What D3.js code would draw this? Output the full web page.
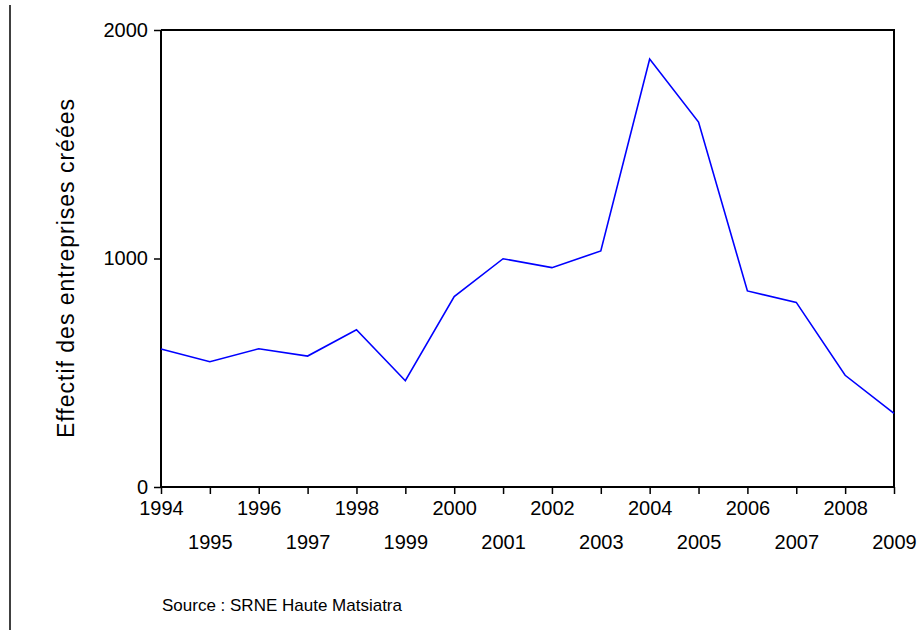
<!DOCTYPE html>
<html>
<head>
<meta charset="utf-8">
<script src="https://cdn.jsdelivr.net/npm/d3@7"></script>
<style>
body{margin:0;background:#fff;}
text{font-family:"Liberation Sans",Arial,sans-serif;fill:#000;}
</style>
</head>
<body>
<div class="container"></div>
<script>
var years=[1994,1995,1996,1997,1998,1999,2000,2001,2002,2003,2004,2005,2006,2007,2008,2009];
var values=[604,548,605,573,688,465,833,999,960,1033,1873,1597,858,808,489,322];
var yTicks=[0,1000,2000];
var yLabel="Effectif des entreprises créées";
var source="Source : SRNE Haute Matsiatra";

var width=921, height=630;
margin={left:161,right:27,top:30,bottom:143};
var w=width-margin.left-margin.right;   // plot width
var h=height-margin.top-margin.bottom;  // plot height

var svg=d3.select(".container").append("svg").attr("width",width).attr("height",height);

// left border line
svg.append("line").attr("x1",10).attr("x2",10).attr("y1",5).attr("y2",630)
    .attr("stroke","#000").attr("stroke-width",1.5);

var g=svg.append("g").attr("transform","translate("+margin.left+","+margin.top+")");

var x=d3.scaleLinear().domain([1994,2009]).range([0,w]);
var y=d3.scaleLinear().domain([0,2000]).range([h,0]);

// frame top + right
g.append("path").attr("d","M0,0H"+w+"V"+h).attr("fill","none").attr("stroke","#000").attr("stroke-width",2);

var yAxis=d3.axisLeft(y).tickValues(yTicks).tickSize(7).tickPadding(6).tickFormat(d3.format("d"));
var ya=g.append("g").call(yAxis);
ya.select(".domain").attr("stroke-width",2).attr("d","M0,0V"+h);
ya.selectAll(".tick line").attr("stroke-width",1.5);
ya.selectAll("text").style("font-size","20px").attr("dy","0.3em");

var xAxis=d3.axisBottom(x).tickValues(years).tickSize(7).tickFormat(d3.format("d"));
var xa=g.append("g").attr("transform","translate(0,"+h+")").call(xAxis);
xa.select(".domain").attr("stroke-width",2).attr("d","M0,0H"+w);
xa.selectAll(".tick line").attr("stroke-width",1.5);
xa.selectAll("text").style("font-size","20px")
    .attr("y",function(d,i){ return i%2==0 ? 28 : 62;})
    .attr("dy","0");

var line=d3.line().x(function(d,i){ return x(years[i]);}).y(function(d){ return y(d);});
g.append("path").datum(values).attr("d",line).attr("fill","none")
    .attr("stroke","#0000ff").attr("stroke-width",1.6);

svg.append("text").attr("transform","translate(74,268) rotate(-90)")
    .attr("text-anchor","middle").style("font-size","23px").style("letter-spacing","1px").text(yLabel);

svg.append("text").attr("x",162).attr("y",611).style("font-size","17px").text(source);
</script>
</body>
</html>
